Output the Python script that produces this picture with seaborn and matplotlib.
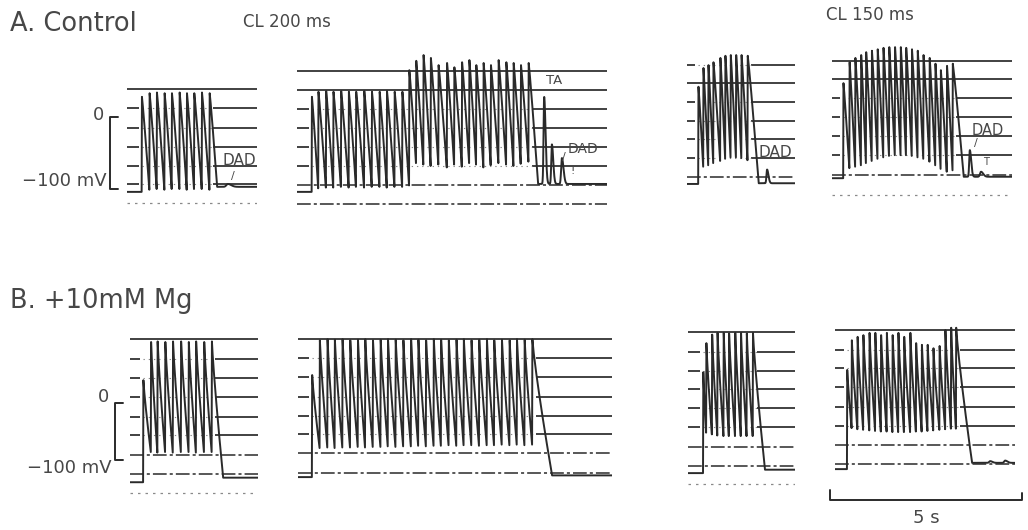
import numpy as np
import pandas as pd
import matplotlib
matplotlib.use("Agg")
import matplotlib.pyplot as plt
import seaborn as sns

sns.set_theme(style="white")
plt.rcParams["font.family"] = ["DejaVu Sans"]

# ---------------------------------------------------------------------------
# Strip-chart recordings.  Times in s from the start of each strip, potentials
# in mV.  For every strip: beat onset times, upstroke peaks, end-diastolic
# troughs, resting level before / after the train, end of the last
# repolarization, after-potentials (time, amplitude, width) and chart grid.
# ---------------------------------------------------------------------------

# A. Control, CL 200 ms, short train
a1_beats = [0.38, 0.58, 0.77, 0.97, 1.16, 1.36, 1.55, 1.74, 1.94, 2.14]
a1_peaks = [28, 33, 34, 33, 33, 34, 33, 33, 34, 33]
a1_troughs = [-101, -100, -101, -100, -100, -101, -100, -100, -101]
a1_rest = [-104, -97]
a1_repol_end = 2.34
a1_after_t, a1_after_amp, a1_after_w = [2.62], [4], [0.12]
a1_grid = [39, 12.5, -15, -42, -68, -93, -119]
a1_grid_kind = ["solid", "stub", "stub", "stub", "stub", "stub", "dotted"]

# A. Control, CL 200 ms, long train ending in triggered activity (TA)
a2_beats = [0.38, 0.55, 0.75, 0.94, 1.14, 1.34, 1.53, 1.74, 1.94, 2.14,
            2.33, 2.53, 2.73, 2.91, 3.09, 3.28, 3.47, 3.67, 3.89, 4.08,
            4.28, 4.47, 4.65, 4.84, 5.03, 5.23, 5.43, 5.62, 5.81, 6.01]
a2_peaks = [28, 35, 36, 35, 36, 35, 35, 36, 35, 35, 36, 35, 35,
            65, 78, 86, 82, 72, 75, 69, 76, 79, 72, 75, 72, 79, 76, 75, 72, 75]
a2_troughs = [-99, -98, -98, -97, -98, -97, -98, -97, -97, -98, -97, -97, -95,
              -64, -66, -68, -66, -70, -66, -69, -64, -66, -70, -67, -64,
              -66, -68, -65, -62]
a2_rest = [-104, -93]
a2_repol_end = 6.26
a2_after_t, a2_after_amp, a2_after_w = [6.42, 6.62, 6.88], [121, 55, 36], [0.05, 0.05, 0.06]
a2_grid = [64, 38, 11, -15, -42, -68, -94, -121]
a2_grid_kind = ["solid", "solid", "stub", "stub", "stub", "stub", "dashdot", "dashdot"]

# A. Control, CL 150 ms, short train
a3_beats = [0.29, 0.42, 0.55, 0.68, 0.86, 0.99, 1.13, 1.27, 1.41, 1.57]
a3_peaks = [42, 68, 72, 76, 82, 85, 86, 86, 86, 85]
a3_troughs = [-69, -67, -64, -61, -58, -56, -56, -57, -60]
a3_rest = [-93, -92]
a3_repol_end = 1.86
a3_after_t, a3_after_amp, a3_after_w = [2.08], [19], [0.05]
a3_grid = [72, 47, 21, -6, -31, -57, -83]
a3_grid_kind = ["stub", "solid", "stub", "stub", "stub", "stub", "dashdot"]

# A. Control, CL 150 ms, long train
a4_beats = [0.29, 0.45, 0.60, 0.75, 0.88, 1.03, 1.18, 1.33, 1.48, 1.63,
            1.78, 1.92, 2.07, 2.22, 2.37, 2.53, 2.68, 2.82, 2.98, 3.13]
a4_peaks = [47, 76, 82, 86, 90, 92, 94, 96, 97, 97, 97, 96, 94, 92, 86, 82, 74, 65, 71, 74]
a4_troughs = [-71, -69, -67, -64, -61, -58, -56, -54, -53, -53, -53, -54, -56,
              -58, -62, -67, -72, -76, -74]
a4_rest = [-85, -83]
a4_repol_end = 3.42
a4_after_t, a4_after_amp, a4_after_w = [3.58, 3.87], [37, 7], [0.05, 0.08]
a4_grid = [78, 53, 26, 0, -26, -53, -81, -108]
a4_grid_kind = ["solid", "solid", "stub", "stub", "stub", "stub", "dashdot", "dotted"]

# B. +10 mM Mg, CL 200 ms, short train
b1_beats = [0.34, 0.54, 0.71, 0.91, 1.11, 1.32, 1.52, 1.71, 1.92, 2.12]
b1_peaks = [40, 107, 108, 107, 108, 108, 107, 108, 107, 108]
b1_troughs = [-86, -87, -86, -87, -86, -86, -87, -86, -86]
b1_rest = [-139, -131]
b1_repol_end = 2.42
b1_after_t, b1_after_amp, b1_after_w = [], [], []
b1_grid = [112, 77, 44, 10.5, -25, -56, -91, -124.5, -158]
b1_grid_kind = ["solid", "stub", "stub", "stub", "stub", "stub", "dashdot", "dashdot", "dotted"]

# B. +10 mM Mg, CL 200 ms, long train
b2_beats = [0.36, 0.56, 0.76, 0.95, 1.15, 1.35, 1.55, 1.74, 1.94, 2.14,
            2.33, 2.53, 2.73, 2.93, 3.12, 3.32, 3.52, 3.71, 3.91, 4.11,
            4.30, 4.50, 4.70, 4.90, 5.09, 5.29, 5.49, 5.68, 5.88, 6.08]
b2_peaks = [49, 110, 112, 111, 112, 110, 111, 112, 110, 111, 112, 111, 110, 112, 111,
            110, 112, 111, 110, 111, 112, 110, 111, 112, 110, 111, 110, 112, 111, 112]
b2_troughs = [-79, -78, -79, -78, -78, -77, -78, -77, -77, -76, -77, -76, -76, -75,
              -76, -75, -75, -74, -75, -74, -74, -75, -74, -74, -73, -74, -73, -74, -73]
b2_rest = [-130, -127]
b2_repol_end = 6.60
b2_after_t, b2_after_amp, b2_after_w = [], [], []
b2_grid = [112, 79, 46, 10.5, -23, -54, -88, -123]
b2_grid_kind = ["solid", "stub", "stub", "stub", "stub", "stub", "dashdot", "dashdot"]

# B. +10 mM Mg, CL 150 ms, short train
b3_beats = [0.39, 0.47, 0.62, 0.76, 0.92, 1.06, 1.22, 1.37, 1.52, 1.68]
b3_peaks = [54, 105, 120, 123, 123, 122, 123, 123, 122, 123]
b3_troughs = [-52, -55, -57, -58, -58, -58, -58, -58, -58]
b3_rest = [-123, -117]
b3_repol_end = 2.00
b3_after_t, b3_after_amp, b3_after_w = [], [], []
b3_grid = [125, 89.5, 56, 25, -9, -42, -77, -110.5, -142]
b3_grid_kind = ["solid", "stub", "stub", "stub", "stub", "stub", "dashdot", "dashdot", "dotted"]

# B. +10 mM Mg, CL 150 ms, long train
b4_beats = [0.31, 0.43, 0.58, 0.73, 0.89, 1.04, 1.19, 1.34, 1.49, 1.64,
            1.79, 1.95, 2.10, 2.25, 2.40, 2.55, 2.71, 2.86, 3.01, 3.14]
b4_peaks = [58, 110, 116, 119, 123, 123, 119, 123, 119, 123, 116, 123, 105, 102,
            102, 96, 100, 128, 132, 132]
b4_troughs = [-44, -46, -47, -48, -49, -50, -50, -51, -51, -51, -51, -50, -50,
              -49, -48, -47, -46, -45, -45]
b4_rest = [-116, -105]
b4_repol_end = 3.56
b4_after_t, b4_after_amp, b4_after_w = [4.03, 4.42], [3, 4], [0.08, 0.08]
b4_grid = [128, 93, 61, 28, -7, -40, -74, -107]
b4_grid_kind = ["solid", "stub", "stub", "stub", "stub", "stub", "dashdot", "dashdot"]

# Calibration bars
volt_bar = [0, -100]     # mV
time_bar = 5             # s

STRIPS = {
    "A1": (a1_beats, a1_peaks, a1_troughs, a1_rest, a1_repol_end,
           a1_after_t, a1_after_amp, a1_after_w, a1_grid, a1_grid_kind),
    "A2": (a2_beats, a2_peaks, a2_troughs, a2_rest, a2_repol_end,
           a2_after_t, a2_after_amp, a2_after_w, a2_grid, a2_grid_kind),
    "A3": (a3_beats, a3_peaks, a3_troughs, a3_rest, a3_repol_end,
           a3_after_t, a3_after_amp, a3_after_w, a3_grid, a3_grid_kind),
    "A4": (a4_beats, a4_peaks, a4_troughs, a4_rest, a4_repol_end,
           a4_after_t, a4_after_amp, a4_after_w, a4_grid, a4_grid_kind),
    "B1": (b1_beats, b1_peaks, b1_troughs, b1_rest, b1_repol_end,
           b1_after_t, b1_after_amp, b1_after_w, b1_grid, b1_grid_kind),
    "B2": (b2_beats, b2_peaks, b2_troughs, b2_rest, b2_repol_end,
           b2_after_t, b2_after_amp, b2_after_w, b2_grid, b2_grid_kind),
    "B3": (b3_beats, b3_peaks, b3_troughs, b3_rest, b3_repol_end,
           b3_after_t, b3_after_amp, b3_after_w, b3_grid, b3_grid_kind),
    "B4": (b4_beats, b4_peaks, b4_troughs, b4_rest, b4_repol_end,
           b4_after_t, b4_after_amp, b4_after_w, b4_grid, b4_grid_kind),
}

# ---------------------------------------------------------------------------
# Layout (figure pixels) and styling
# ---------------------------------------------------------------------------
W, H = 1028, 530
PX_PER_S = 38.5
ROWS = {"A": dict(top=40, bottom=215, zero=117, px_per_mv=0.72, bend=1.1),
        "B": dict(top=315, bottom=505, zero=403, px_per_mv=0.57, bend=0.85)}
BOXES = {"A1": (127, 257), "A2": (297, 607), "A3": (687, 795), "A4": (832, 1012),
         "B1": (130, 258), "B2": (298, 612), "B3": (688, 795), "B4": (835, 1015)}
INK = "#2a2a2a"
FAINT = "#8a8a8a"
TEXT = "#474747"
RISE = 0.008


def strip_trace(duration, beats, peaks, troughs, rest, repol_end,
                after_t, after_amp, after_w, bend):
    """Sawtooth action-potential train followed by after-potentials."""
    t, v = [0.0], [rest[0]]
    n = len(beats)
    for i in range(n):
        tb = beats[i]
        t += [tb, tb + RISE]
        v += [v[-1], peaks[i]]
        if i < n - 1:
            t_end, v_end = beats[i + 1], troughs[i]
        else:
            t_end, v_end = repol_end, rest[1]
        s = np.linspace(0, 1, 16)[1:]
        t += list(tb + RISE + (t_end - tb - RISE) * s)
        v += list(peaks[i] - (peaks[i] - v_end) * s ** bend)
    tail = np.linspace(repol_end, duration, 500)[1:]
    vt = np.full_like(tail, rest[1], dtype=float)
    for tc, a, w in zip(after_t, after_amp, after_w):
        width = np.where(tail < tc, 0.45 * w, w)
        vt += a * np.exp(-((tail - tc) / width) ** 2)
    t += list(tail)
    v += list(vt)
    return pd.DataFrame({"time (s)": t, "Vm (mV)": v})


def draw_grid(ax, levels, kinds, span, t0, t1):
    for y, kind in zip(levels, kinds):
        if kind == "solid":
            ax.hlines(y, 0, span, color=INK, lw=1.25)
        elif kind == "stub":
            ax.hlines(y, 0, t0 - 0.08, color=INK, lw=1.25)
            ax.hlines(y, t1, span, color=INK, lw=1.25)
            ax.hlines(y, t0, t1, color=FAINT, lw=0.8, linestyles=(0, (1.2, 3.5)))
        elif kind == "dashdot":
            ax.hlines(y, 0, span, color=INK, lw=1.1, linestyles=(0, (9, 2, 2, 2)))
        else:
            ax.hlines(y, 0, span, color=FAINT, lw=0.9, linestyles=(0, (2, 4)))


fig = plt.figure(figsize=(W / 100, H / 100), dpi=100)
axes = {}
for key, (x0, x1) in BOXES.items():
    row = ROWS[key[0]]
    rect = [x0 / W, 1 - row["bottom"] / H, (x1 - x0) / W, (row["bottom"] - row["top"]) / H]
    ax = fig.add_axes(rect)
    span = (x1 - x0) / PX_PER_S
    ylo = (row["zero"] - row["bottom"]) / row["px_per_mv"]
    yhi = (row["zero"] - row["top"]) / row["px_per_mv"]
    (beats, peaks, troughs, rest, repol_end,
     after_t, after_amp, after_w, grid, kinds) = STRIPS[key]
    draw_grid(ax, grid, kinds, span, beats[0], beats[-1] + 0.1)
    df = strip_trace(span, beats, peaks, troughs, rest, repol_end,
                     after_t, after_amp, after_w, row["bend"])
    sns.lineplot(data=df, x="time (s)", y="Vm (mV)", sort=False, estimator=None,
                 ax=ax, color=INK, lw=1.4)
    ax.set_xlim(0, span)
    ax.set_ylim(ylo, yhi)
    ax.axis("off")
    axes[key] = ax

# Voltage calibration brackets
for key, xv, xh, xt, y_lab in (("A1", -0.44, -0.23, -0.52, -89), ("B1", -0.38, -0.18, -0.47, -114)):
    ax = axes[key]
    ax.plot([xh, xv, xv, xh], [volt_bar[0], volt_bar[0], volt_bar[1], volt_bar[1]],
            color=INK, lw=1.4, clip_on=False)
    ax.text(xv - 0.16, volt_bar[0] + (3 if key == "A1" else 10), f"{volt_bar[0]}",
            ha="right", va="center", fontsize=13, color=TEXT)
    ax.text(xt, y_lab, f"\u2212{abs(volt_bar[1])} mV", ha="right", va="center",
            fontsize=13, color=TEXT)

# Time calibration bar
ax = axes["B4"]
xb0 = -0.13
ax.plot([xb0, xb0, xb0 + time_bar, xb0 + time_bar], [-153, -170, -170, -158],
        color=INK, lw=1.4, clip_on=False)
ax.text(xb0 + time_bar / 2, -202, f"{time_bar} s", ha="center", va="center",
        fontsize=13, color=TEXT)

# Annotations
axes["A1"].text(2.91, -61, "DAD", ha="center", va="center", fontsize=11, color=TEXT)
axes["A1"].text(2.75, -82, "/", ha="center", va="center", fontsize=8, color=TEXT)
axes["A2"].text(6.68, 50, "TA", ha="center", va="center", fontsize=9.5, color=TEXT)
axes["A2"].text(7.42, -44, "DAD", ha="center", va="center", fontsize=10, color=TEXT)
axes["A2"].text(6.94, -56, "/", ha="center", va="center", fontsize=8, color=TEXT)
axes["A2"].text(7.17, -75, "!", ha="center", va="center", fontsize=8, color=TEXT)
axes["A3"].text(2.29, -49, "DAD", ha="center", va="center", fontsize=11, color=TEXT)
axes["A4"].text(4.05, -19, "DAD", ha="center", va="center", fontsize=10.5, color=TEXT)
axes["A4"].text(3.74, -36, "/", ha="center", va="center", fontsize=8, color=TEXT)
axes["A4"].text(4.00, -62, "T", ha="center", va="center", fontsize=7, color=TEXT)

# Headings
fig.text(10 / W, 1 - 24 / H, "A. Control", ha="left", va="center", fontsize=18.5, color=TEXT)
fig.text(243 / W, 1 - 22 / H, "CL 200 ms", ha="left", va="center", fontsize=12, color=TEXT)
fig.text(826 / W, 1 - 15 / H, "CL 150 ms", ha="left", va="center", fontsize=12, color=TEXT)
fig.text(10 / W, 1 - 301 / H, "B. +10mM Mg", ha="left", va="center", fontsize=18.5, color=TEXT)

fig.savefig("out.png", dpi=100, facecolor="white")
